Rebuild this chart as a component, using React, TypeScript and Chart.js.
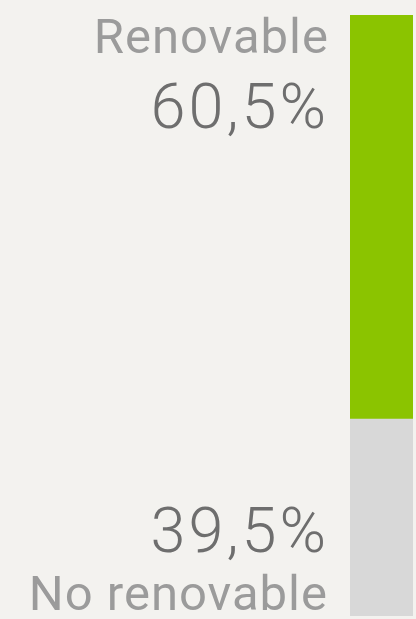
import React, { useEffect, useRef } from "react";
import { Chart, registerables } from "chart.js";

Chart.register(...registerables);

const categories = ["Energía"];
const seriesNames = ["No renovable", "Renovable"];
const noRenovableValues = [39.5];
const renovableValues = [60.5];
const valueLabels = ["39,5%", "60,5%"];

const GREEN = "#8bc400";
const GRAY = "#d8d8d8";
const BG = "#f3f2ef";
const LABEL_COLOR = "#9b9b9b";
const VALUE_COLOR = "#6e6e6e";
const FONT = "Roboto, 'Liberation Sans', sans-serif";

const labelPlugin = {
  id: "sideLabels",
  afterDatasetsDraw(chart: any) {
    const ctx = chart.ctx;
    const greenBar = chart.getDatasetMeta(1).data[0] as any;
    if (!greenBar) return;
    const left = greenBar.x - greenBar.width / 2;
    const tx = left - 23;
    const top = greenBar.y;
    const bottom = chart.chartArea.bottom;
    ctx.save();
    ctx.textAlign = "right";
    ctx.textBaseline = "alphabetic";

    ctx.letterSpacing = "1px";
    ctx.fillStyle = LABEL_COLOR;
    ctx.font = `400 49px ${FONT}`;
    ctx.fillText(seriesNames[1], tx + 2, top + 38);
    ctx.fillText(seriesNames[0], tx + 1, bottom - 6);

    ctx.letterSpacing = "3px";
    ctx.fillStyle = VALUE_COLOR;
    ctx.font = `300 63px ${FONT}`;
    ctx.fillText(valueLabels[1], tx + 2, top + 113);
    ctx.fillText(valueLabels[0], tx + 2, bottom - 64);
    ctx.restore();
  },
};

export default function App() {
  const ref = useRef<HTMLCanvasElement | null>(null);
  useEffect(() => {
    document.body.style.margin = "0";
    document.body.style.background = BG;
    const canvas = ref.current!;
    const chart = new Chart(canvas, {
      type: "bar",
      data: {
        labels: categories,
        datasets: [
          {
            label: seriesNames[0],
            data: noRenovableValues,
            backgroundColor: GRAY,
            borderWidth: 0,
            barPercentage: 1,
            categoryPercentage: 1,
          },
          {
            label: seriesNames[1],
            data: renovableValues,
            backgroundColor: GREEN,
            borderWidth: 0,
            barPercentage: 1,
            categoryPercentage: 1,
          },
        ],
      },
      options: {
        responsive: false,
        animation: false,
        layout: { padding: { left: 350, right: 3, top: 15, bottom: 3 } },
        plugins: {
          legend: { display: false },
          tooltip: { enabled: false },
        },
        scales: {
          x: { stacked: true, display: false },
          y: { stacked: true, display: false, min: 10, max: 100 },
        },
      },
      plugins: [labelPlugin],
    });
    return () => chart.destroy();
  }, []);
  return (
    <div style={{ width: 416, height: 619, background: BG }}>
      <canvas ref={ref} width={416} height={619} style={{ display: "block" }} />
    </div>
  );
}
